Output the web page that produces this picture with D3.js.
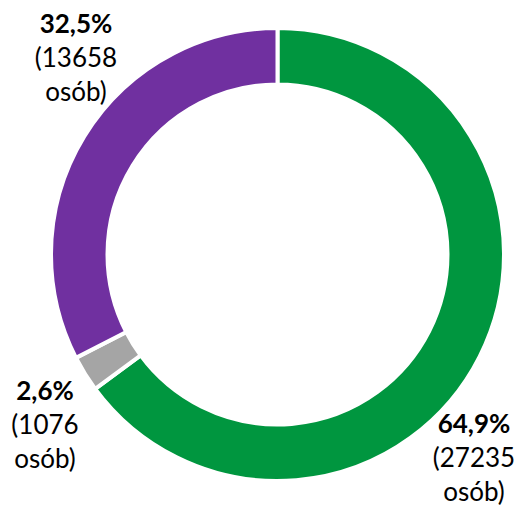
<!DOCTYPE html>
<html>
<head>
<meta charset="utf-8">
<script src="https://cdn.jsdelivr.net/npm/d3@7"></script>
<style>
  html, body { margin: 0; padding: 0; background: #fff; }
  svg { display: block; }
</style>
</head>
<body>
<svg id="chart" width="518" height="506"></svg>
<script>
// Data
const categories = ["tak", "nie wiem", "nie"];
const counts = [27235, 1076, 13658];
const percentLabels = ["64,9%", "2,6%", "32,5%"];
const colors = ["#00963F", "#A5A5A5", "#7030A0"];

// Layout
const width = 518, height = 506;
const cx = 277.5, cy = 254.5;
const outerR = 226.5, innerR = 170;
// Where each label block is centred (x) and the baseline of its first line (y)
const labelAnchors = [
  { x: 474, y: 433 },
  { x: 45,  y: 400 },
  { x: 76,  y: 33 }
];
const lineGap = 34;

const svg = d3.select("#chart");
const g = svg.append("g").attr("transform", `translate(${cx},${cy})`);

const pie = d3.pie().sort(null).value(d => d);
const arcs = pie(counts);
const arc = d3.arc().innerRadius(innerR).outerRadius(outerR);

g.selectAll("path.slice")
  .data(arcs)
  .join("path")
  .attr("class", "slice")
  .attr("d", arc)
  .attr("fill", (d, i) => colors[i])
  .attr("stroke", "#fff")
  .attr("stroke-width", 4)
  .attr("stroke-linejoin", "miter");

const fmt = n => String(n);
const labels = svg.selectAll("text.lbl")
  .data(arcs)
  .join("text")
  .attr("class", "lbl")
  .attr("text-anchor", "middle")
  .attr("font-family", "Lato, 'Open Sans', sans-serif")
  .attr("font-size", 26)
  .attr("fill", "#000");

labels.each(function(d, i) {
  const t = d3.select(this);
  const a = labelAnchors[i];
  t.append("tspan").attr("x", a.x).attr("y", a.y)
    .attr("font-weight", "bold").text(percentLabels[i]);
  t.append("tspan").attr("x", a.x).attr("y", a.y + lineGap)
    .text("(" + fmt(counts[i]));
  t.append("tspan").attr("x", a.x).attr("y", a.y + 2 * lineGap)
    .text("osób)");
});
</script>
</body>
</html>
